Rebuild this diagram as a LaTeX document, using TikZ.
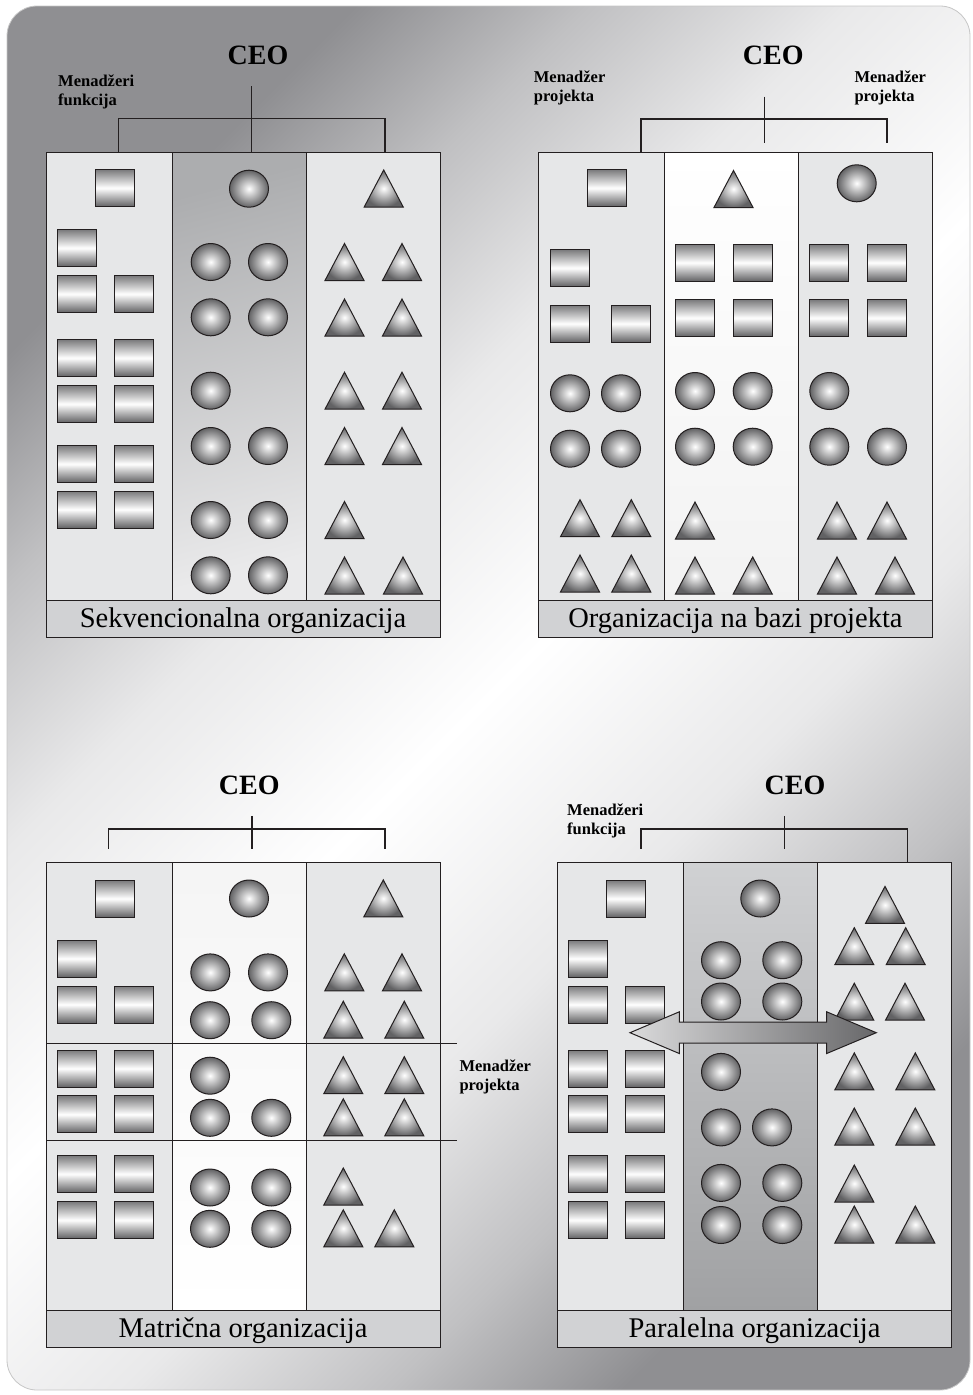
\documentclass[tikz,border=0pt]{standalone}
\usepackage{fontspec}
\setmainfont{Liberation Serif}
\usetikzlibrary{shapes.geometric,calc}
\definecolor{linedark}{RGB}{35,31,32}
\definecolor{panelfill}{RGB}{230,231,232}
\definecolor{bandfill}{RGB}{209,210,212}
\definecolor{bgdark}{RGB}{143,143,146}
\definecolor{bgmid}{RGB}{192,192,194}
\definecolor{bglight}{RGB}{233,233,234}
\definecolor{shapedark}{RGB}{98,98,100}
\definecolor{coldark}{RGB}{172,173,175}
\definecolor{collight}{RGB}{234,234,235}
\definecolor{colmid}{RGB}{208,209,211}
\definecolor{collow}{RGB}{160,161,163}
\definecolor{arrowlight}{RGB}{218,218,219}
\definecolor{arrowdark}{RGB}{104,104,106}
\pgfdeclareverticalshading{bgshade}{100bp}{color(0bp)=(bgdark); color(25bp)=(bgdark); color(32bp)=(bgmid); color(40bp)=(bglight); color(50bp)=(white); color(60bp)=(bglight); color(68bp)=(bgmid); color(75bp)=(bgdark); color(100bp)=(bgdark)}
\tikzset{
  tri/.pic={\shadedraw[draw=linedark,line width=1pt,inner color=white,outer color=shapedark] (-19.5,18.5) -- (0,-18.5) -- (19.5,18.5) -- cycle;}
}

\begin{document}
\begin{tikzpicture}[x=1pt,y=-1pt,
    frame/.style={draw=linedark,line width=1pt},
    wire/.style={draw=linedark,line width=1.2pt},
    sq/.style={rectangle,draw=linedark,line width=1pt,minimum width=39pt,minimum height=37pt,inner sep=0pt,top color=shapedark!85,bottom color=shapedark,middle color=white},
    ball/.style={ellipse,draw=linedark,line width=1pt,minimum width=39pt,minimum height=37pt,inner sep=0pt,inner color=white,outer color=shapedark},
    ceo/.style={anchor=base,inner sep=0pt,font=\bfseries\fontsize{28}{30}\selectfont},
    mgr/.style={anchor=north west,inner sep=0pt,align=left,font=\bfseries\fontsize{16.5}{19}\selectfont},
    caption/.style={anchor=base,inner sep=0pt,font=\fontsize{28.5}{30}\selectfont}]
  \useasboundingbox (0,0) rectangle (972,1395);
  \shade[rounded corners=30pt,shading=bgshade,shading angle=45] (7,6) rectangle (970,1390);
  \draw[rounded corners=30pt,draw=gray!45,line width=0.8pt] (7,6) rectangle (970,1390);

  % sekvencionalna
  \fill[panelfill] (46,152.7) rectangle (440,600);
  \shade[top color=coldark,bottom color=collight,shading angle=15] (172.7,152.7) rectangle (306.7,600);
  \fill[bandfill] (46,600) rectangle (440,637.5);
  \draw[frame] (46,152.7) rectangle (440,637.5) (46,600) -- (440,600) (172.7,152.7) -- (172.7,600) (306.7,152.7) -- (306.7,600);
  \node[ceo] (ceoA) at (258,64) {CEO};
  \node[mgr] (mgrA) at (58,74.5) {Menadžeri\\funkcija};
  \coordinate (a-top) at (251.7,86);
  \coordinate (a-bar) at (251.7,118.7);
  \coordinate (a-left) at (118.7,152.7);
  \coordinate (a-mid) at (251.7,152.7);
  \coordinate (a-right) at (385,152.7);
  \draw[wire] (a-top) -- (a-mid);
  \draw[wire] (a-left) |- (a-bar) -| (a-right);
  \foreach \x/\y [count=\i] in {114.7/188,76.5/248,76.5/294,133.7/294,76.5/358,133.7/358,76.5/404,133.7/404,76.5/464,133.7/464,76.5/509.5,133.7/509.5}
    \node[sq] (a-sq\i) at (\x,\y) {};
  \foreach \x/\y [count=\i] in {249/188.7,210.7/262,268/262,210.7/317.3,268/317.3,210.7/390.7,210.7/446,268/446,210.7/520,268/520,210.7/575.3,268/575.3}
    \node[ball] (a-ball\i) at (\x,\y) {};
  \foreach \x/\y [count=\i] in {383.7/188.5,344.5/262,402/262,344.5/317.5,402/317.5,344.5/390.7,402/390.7,344.5/446,402/446,344.5/520,344.5/575.5,403/575.5}
    \pic (a-tri\i) at (\x,\y) {tri};
  \node[caption] (capA) at (243,627.3) {Sekvencionalna organizacija};

  % na bazi projekta
  \fill[panelfill] (538.3,152.7) rectangle (932.7,600);
  \shade[top color=white,bottom color=gray!10] (664.3,152.7) rectangle (798.3,600);
  \fill[bandfill] (538.3,600) rectangle (932.7,637.5);
  \draw[frame] (538.3,152.7) rectangle (932.7,637.5) (538.3,600) -- (932.7,600) (664.3,152.7) -- (664.3,600) (798.3,152.7) -- (798.3,600);
  \node[ceo] (ceoB) at (773.3,64) {CEO};
  \node[mgr] (mgrB1) at (533.7,70.2) {Menadžer\\projekta};
  \node[mgr] (mgrB2) at (854.3,70.2) {Menadžer\\projekta};
  \coordinate (b-top) at (764.3,96.7);
  \coordinate (b-bar) at (764.3,119);
  \coordinate (b-left) at (641,152.7);
  \coordinate (b-mid) at (764.3,143.3);
  \coordinate (b-right) at (887,143.3);
  \draw[wire] (b-top) -- (b-mid);
  \draw[wire] (b-left) |- (b-bar) -| (b-right);
  \foreach \x/\y [count=\i] in {607/188,569.7/268,569.7/323.7,631.3/323.7,695/262.7,752.7/262.7,695/318,752.7/318,829.3/262.7,887/262.7,829.3/318,887/318}
    \node[sq] (b-sq\i) at (\x,\y) {};
  \foreach \x/\y [count=\i] in {570/393.3,621/393.3,570/448.7,621/448.7,695/391,752.7/391,695/446.7,752.7/446.7,856.7/183.3,829.3/391,829.3/446.7,887/446.7}
    \node[ball] (b-ball\i) at (\x,\y) {};
  \foreach \x/\y [count=\i] in {580/518.2,631.3/518.2,580/573.5,631.3/573.5,733.5/189,695/520.5,695/575.5,752.7/575.5,837/520.5,887/520.5,837/575.5,895/575.5}
    \pic (b-tri\i) at (\x,\y) {tri};
  \node[caption] (capB) at (735.5,627.3) {Organizacija na bazi projekta};

  % matricna
  \fill[panelfill] (46,862.6) rectangle (440,1310.3);
  \shade[top color=gray!8,bottom color=white] (172.7,862.6) rectangle (306.7,1310.3);
  \fill[bandfill] (46,1310.3) rectangle (440,1347.4);
  \draw[frame] (46,862.6) rectangle (440,1347.4) (46,1310.3) -- (440,1310.3) (172.7,862.6) -- (172.7,1310.3) (306.7,862.6) -- (306.7,1310.3);
  \draw[frame] (46,1043.2) -- (456.7,1043.2) (46,1140.8) -- (456.7,1140.8);
  \node[ceo] (ceoC) at (249.3,794.5) {CEO};
  \node[mgr] (mgrC) at (459.3,1059.3) {Menadžer\\projekta};
  \coordinate (c-top) at (252,815.9);
  \coordinate (c-bar) at (252,828.9);
  \coordinate (c-left) at (108.3,848.8);
  \coordinate (c-mid) at (252,848.8);
  \coordinate (c-right) at (385,848.8);
  \draw[wire] (c-top) -- (c-mid);
  \draw[wire] (c-left) |- (c-bar) -| (c-right);
  \foreach \x/\y [count=\i] in {114.7/898.7,76.7/958.6,76.7/1004.5,134/1004.5,76.7/1068.5,134/1068.5,76.7/1114.4,134/1114.4,76.7/1174,134/1174,76.7/1220,134/1220}
    \node[sq] (c-sq\i) at (\x,\y) {};
  \foreach \x/\y [count=\i] in {249/898.5,210.3/972.4,268/972.4,210/1020.2,271.3/1020.2,210/1075.7,210/1117.8,271.3/1117.8,210/1187.5,271.3/1187.5,210/1228.8,271.3/1228.8}
    \node[ball] (c-ball\i) at (\x,\y) {};
  \foreach \x/\y [count=\i] in {383.3/898.4,344.3/972.3,402/972.3,343.3/1019.7,404.3/1019.7,343.3/1075.2,404.3/1075.2,343.3/1117.3,404.3/1117.3,343.3/1186.5,343.3/1228.3,394.3/1228.3}
    \pic (c-tri\i) at (\x,\y) {tri};
  \node[caption] (capC) at (243,1337.6) {Matrična organizacija};

  % paralelna
  \fill[panelfill] (557.3,862.6) rectangle (951.7,1310.3);
  \shade[top color=colmid,bottom color=collow] (683.3,862.6) rectangle (817.3,1310.3);
  \fill[bandfill] (557.3,1310.3) rectangle (951.7,1347.4);
  \draw[frame] (557.3,862.6) rectangle (951.7,1347.4) (557.3,1310.3) -- (951.7,1310.3) (683.3,862.6) -- (683.3,1310.3) (817.3,862.6) -- (817.3,1310.3);
  \node[ceo] (ceoD) at (795,794.5) {CEO};
  \node[mgr] (mgrD) at (567,804) {Menadžeri\\funkcija};
  \coordinate (d-top) at (784.3,815.9);
  \coordinate (d-bar) at (784.3,828.9);
  \coordinate (d-left) at (641,848.8);
  \coordinate (d-mid) at (784.3,848.8);
  \coordinate (d-right) at (907.7,862.6);
  \draw[wire] (d-top) -- (d-mid);
  \draw[wire] (d-left) |- (d-bar) -| (d-right);
  \foreach \x/\y [count=\i] in {626/898.7,587.7/958.6,587.7/1004.5,645.3/1004.5,587.7/1068.5,645.3/1068.5,587.7/1114.4,645.3/1114.4,587.7/1174,645.3/1174,587.7/1220,645.3/1220}
    \node[sq] (d-sq\i) at (\x,\y) {};
  \foreach \x/\y [count=\i] in {760.3/898.5,721/960.2,782.3/960.2,721/1001.5,782.3/1001.5,721/1071.9,721/1127.4,772/1127.4,721/1182.9,782.3/1182.9,721/1225,782.3/1225}
    \node[ball] (d-ball\i) at (\x,\y) {};
  \foreach \x/\y [count=\i] in {885/904.9,854.3/946.2,905.7/946.2,854.3/1001.7,905/1001.7,854.3/1071.4,915.3/1071.4,854.3/1126.5,915.3/1126.5,854.3/1183.5,854.3/1224.5,915.3/1224.5}
    \pic (d-tri\i) at (\x,\y) {tri};
  \shadedraw[frame,left color=arrowlight,right color=arrowdark] (630,1032.7) -- (679.3,1011.8) -- (679.3,1022.2) -- (826.7,1022.2) -- (826.7,1011.8) -- (876.3,1032.7) -- (826.7,1053.5) -- (826.7,1043.2) -- (679.3,1043.2) -- (679.3,1053.5) -- cycle;
  \node[caption] (capD) at (754.5,1337.6) {Paralelna organizacija};
\end{tikzpicture}
\end{document}
